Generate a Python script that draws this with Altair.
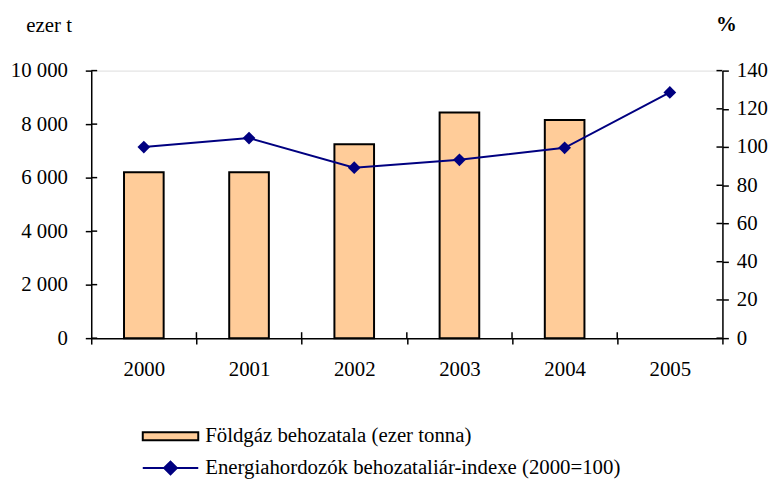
import altair as alt
import pandas as pd

years = ["2000", "2001", "2002", "2003", "2004", "2005"]
bar_years = ["2000", "2001", "2002", "2003", "2004"]
import_kt = [6200, 6200, 7250, 8430, 8150]
price_index = [100, 104.7, 89.2, 93.3, 99.6, 128.6]
left_ticks = [0, 2000, 4000, 6000, 8000, 10000]
right_ticks = [0, 20, 40, 60, 80, 100, 120, 140]
tick_years = ["2001", "2002", "2003", "2004", "2005"]

bar_name = "Földgáz behozatala (ezer tonna)"
line_name = "Energiahordozók behozataliár-indexe (2000=100)"

FONT = "Liberation Serif, Times New Roman, serif"
FS = 21
W, H = 637, 270
NAVY = "#000080"

bars_df = pd.DataFrame({"year": bar_years, "value": import_kt, "series": bar_name})
line_df = pd.DataFrame({"year": years, "value": price_index, "series": line_name})

xscale = alt.Scale(domain=years, paddingInner=0, paddingOuter=0)
lscale = alt.Scale(domain=[0, 10000], nice=False)
rscale = alt.Scale(domain=[0, 140], nice=False)

axis_common = dict(
    labelFont=FONT, labelFontSize=FS, labelColor="black",
    domainColor="black", domainWidth=1.5, tickColor="black", tickWidth=1.5,
    tickSize=6, grid=False, titleFont=FONT, titleFontSize=FS, titleColor="black",
)

bars = alt.Chart(bars_df).mark_bar(size=40, stroke="black", strokeWidth=2).encode(
    x=alt.X("year:N", scale=xscale, sort=years,
            axis=alt.Axis(title=None, labelAngle=0, tickBand="extent", labelPadding=15,
                          **axis_common)),
    y=alt.Y("value:Q", scale=lscale,
            axis=alt.Axis(orient="left", values=left_ticks, labelPadding=18,
                          labelExpr="replace(format(datum.value, ','), ',', ' ')",
                          title="ezer t", titleAngle=0, titleAlign="left",
                          titleBaseline="alphabetic", titleX=-66, titleY=-39,
                          titleFontWeight="normal", **axis_common)),
    fill=alt.Fill("series:N", scale=alt.Scale(range=["#FFCC99"]),
                  legend=alt.Legend(title=None, orient="none", legendX=51, legendY=340,
                                    symbolType="M-1,-0.143H1V0.143H-1Z", symbolSize=3136,
                                    symbolStrokeColor="black", symbolStrokeWidth=2,
                                    labelFont=FONT, labelFontSize=FS, labelColor="black",
                                    labelOffset=6, padding=0, labelLimit=600)),
)

line = alt.Chart(line_df).mark_line(strokeWidth=2).encode(
    x=alt.X("year:N", scale=xscale, sort=years),
    y=alt.Y("value:Q", scale=rscale,
            axis=alt.Axis(orient="right", values=right_ticks, labelPadding=8,
                          title="%", titleAngle=0, titleAlign="left",
                          titleBaseline="alphabetic", titleX=-7, titleY=-40,
                          titleFontWeight="bold", **axis_common)),
    stroke=alt.Stroke("series:N", scale=alt.Scale(range=[NAVY]),
                      legend=alt.Legend(title=None, orient="none", legendX=51, legendY=372,
                                        symbolType="M-1,0H1M-0.23,0L0,-0.23L0.23,0L0,0.23Z",
                                        symbolSize=3136, symbolStrokeWidth=2,
                                        symbolFillColor=NAVY,
                                        labelFont=FONT, labelFontSize=FS, labelColor="black",
                                        labelOffset=6, padding=0, labelLimit=600)),
)

points = alt.Chart(line_df).mark_point(shape="diamond", filled=True, size=165,
                                       color=NAVY, opacity=1).encode(
    x=alt.X("year:N", scale=xscale, sort=years),
    y=alt.Y("value:Q", scale=rscale, axis=None),
)

lticks = alt.Chart(pd.DataFrame({"v": left_ticks})).mark_rule(color="black", strokeWidth=1.5).encode(
    y=alt.Y("v:Q", scale=lscale, axis=None),
    x=alt.value(0), x2=alt.value(6),
)
rticks = alt.Chart(pd.DataFrame({"v": right_ticks})).mark_rule(color="black", strokeWidth=1.5).encode(
    y=alt.Y("v:Q", scale=rscale, axis=None),
    x=alt.value(W - 6), x2=alt.value(W),
)
xticks = alt.Chart(pd.DataFrame({"year": tick_years})).mark_rule(color="black", strokeWidth=1.5).encode(
    x=alt.X("year:N", scale=xscale, sort=years, bandPosition=0),
    y=alt.value(H - 6), y2=alt.value(H),
)

chart = alt.layer(bars, line, points, lticks, rticks, xticks).resolve_scale(
    y="independent"
).properties(
    width=W, height=H,
    autosize=alt.AutoSizeParams(type="none"),
    padding={"left": 84, "top": 61, "right": 47, "bottom": 144},
).configure_view(stroke="#808080", strokeWidth=1.5).configure(background="white")

chart.save("out.html", embed_options={"renderer": "svg", "actions": False})
